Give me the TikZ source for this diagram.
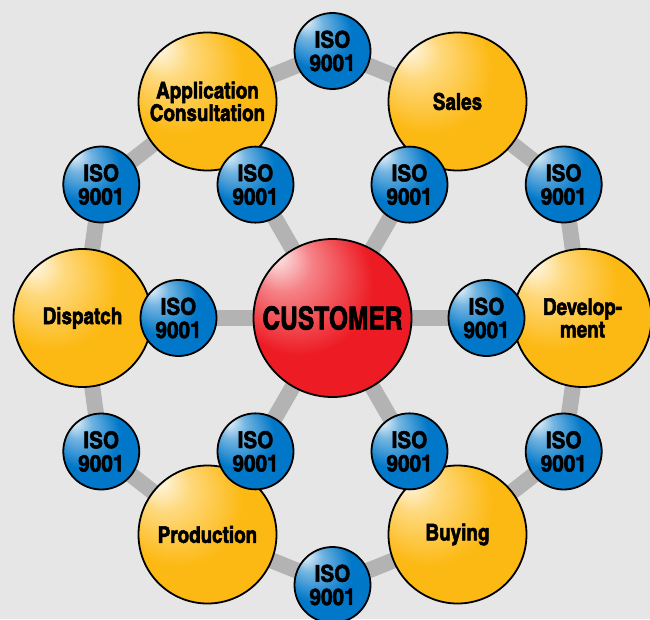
\documentclass[tikz,border=0pt]{standalone}
\usepackage{fontspec}
\setmainfont{texgyreheroscn}[Extension=.otf, UprightFont=*-regular, BoldFont=*-bold, BoldFeatures={FakeBold=2.2}]
\usepackage{tikz}
\usetikzlibrary{backgrounds}
\usepackage{xcolor}
\definecolor{bggrey}{HTML}{E6E6E6}
\definecolor{bargrey}{HTML}{B3B3B3}
\definecolor{ballred}{HTML}{ED1C24}
\definecolor{ballorange}{HTML}{FDB913}
\definecolor{ballblue}{HTML}{0077C8}
\newcommand{\shinyshading}[2]{%
  \pgfdeclareradialshading{#1}{\pgfpoint{-19bp}{21bp}}{%
    color(0bp)=(white); color(2bp)=(white!85!#2); color(9bp)=(white!45!#2);
    color(23bp)=(#2); color(50bp)=(#2)}}
\shinyshading{shinyred}{ballred}
\shinyshading{shinyorange}{ballorange}
\shinyshading{shinyblue}{ballblue}
\tikzset{
    ball/.style = {circle, draw=black, line width=1.8pt, inner sep=0pt, shade, align=center},
    customer-ball/.style = {ball, minimum size=158pt, shading=shinyred,
        font=\bfseries\fontsize{31.5}{31.5}\selectfont\addfontfeature{FakeStretch=0.95}},
    dept-ball/.style = {ball, minimum size=138pt, shading=shinyorange, font=\bfseries\fontsize{23}{22.5}\selectfont},
    iso-ball/.style = {ball, minimum size=76pt, shading=shinyblue,
        font=\bfseries\fontsize{23}{23.3}\selectfont\addfontfeature{FakeStretch=1.1}},
    bar/.style = {draw=bargrey, line width=16pt},
}

\begin{document}
\begin{tikzpicture}
\path[use as bounding box, clip] (-332.5pt,-301pt) rectangle (317.5pt,318pt);
% centre
\node[customer-ball] (customer) at (0,0) {CUSTOMER};
% departments with their own ISO ball towards the customer
\foreach \ang/\dname/\dtext in {0/dev/{Develop-\\ment}, 60/sales/Sales, 120/appcons/{Application\\Consultation},
                               180/dispatch/Dispatch, 240/prod/Production, 300/buying/Buying}{
    \node[dept-ball] (\dname) at (\ang:250pt) {\dtext};
    \node[iso-ball] (iso-\dname) at (\ang:154pt) {ISO\\9001};
}
% ISO balls on the ring
\foreach \ang in {30,90,...,330}
    \node[iso-ball] (iso-r\ang) at (\ang:267pt) {ISO\\9001};
\begin{scope}[on background layer]
\fill[bggrey] (-332.5pt,-301pt) rectangle (317.5pt,318pt);
\foreach \dname in {dev,sales,appcons,dispatch,prod,buying}
    \draw[bar] (customer.center) -- (iso-\dname.center) -- (\dname.center);
\foreach \a/\r/\b in {dev/30/sales, sales/90/appcons, appcons/150/dispatch,
                      dispatch/210/prod, prod/270/buying, buying/330/dev}
    \draw[bar] (\a.center) -- (iso-r\r.center) -- (\b.center);
\end{scope}
\end{tikzpicture}
\end{document}
